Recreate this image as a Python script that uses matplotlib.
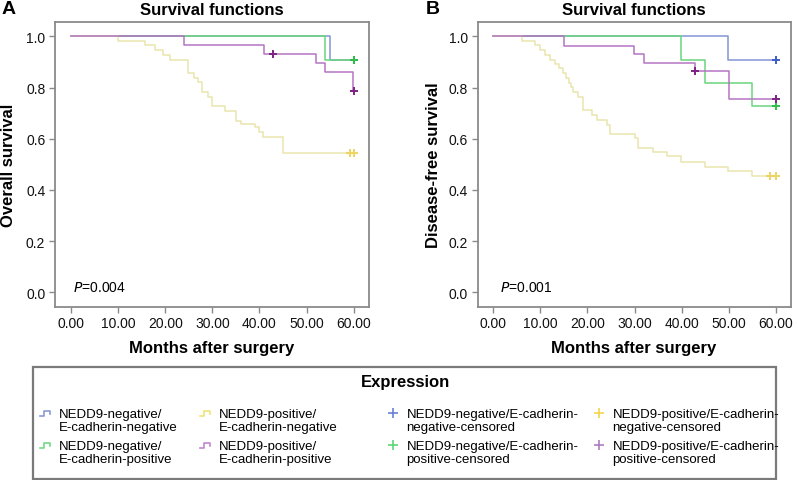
import matplotlib
matplotlib.use("Agg")
import matplotlib.pyplot as plt
from matplotlib.lines import Line2D
from matplotlib.patches import Rectangle
from matplotlib.legend_handler import HandlerBase

plt.rcParams['font.family'] = ['Liberation Sans', 'DejaVu Sans']

# ---------------- data ----------------
# Panel A: overall survival (Kaplan-Meier step data)
A_blue_t = [0, 55.0, 60]
A_blue_s = [1.0, 0.909, 0.909]
A_blue_ct = [60]
A_blue_cs = [0.909]

A_green_t = [0, 53.9, 60]
A_green_s = [1.0, 0.909, 0.909]
A_green_ct = [60]
A_green_cs = [0.909]

A_yellow_t = [0, 10.0, 15.7, 17.8, 19.6, 21.0, 24.9, 26.0, 26.9, 27.9, 29.0, 29.9,
              32.7, 35.0, 36.1, 39.0, 39.8, 40.8, 45.0, 60]
A_yellow_s = [1.0, 0.983, 0.967, 0.946, 0.928, 0.909, 0.855, 0.836, 0.820, 0.781, 0.762,
              0.729, 0.709, 0.670, 0.657, 0.645, 0.625, 0.605, 0.545, 0.545]
A_yellow_ct = [59.2, 60]
A_yellow_cs = [0.545, 0.545]

A_purple_t = [0, 23.9, 41.0, 51.9, 53.9, 59.9, 60]
A_purple_s = [1.0, 0.966, 0.931, 0.896, 0.860, 0.787, 0.787]
A_purple_ct = [42.9, 60]
A_purple_cs = [0.931, 0.787]

# Panel B: disease-free survival
B_blue_t = [0, 49.9, 60]
B_blue_s = [1.0, 0.909, 0.909]
B_blue_ct = [60]
B_blue_cs = [0.909]

B_green_t = [0, 39.9, 44.9, 55.0, 60]
B_green_s = [1.0, 0.909, 0.818, 0.727, 0.727]
B_green_ct = [60]
B_green_cs = [0.727]

B_yellow_t = [0, 6.0, 8.9, 9.9, 10.9, 12.0, 13.1, 14.0, 14.9, 15.5, 16.0, 16.5, 17.0,
              18.1, 19.0, 20.9, 22.1, 24.1, 24.9, 30.1, 30.8, 34.0, 36.8, 39.9, 44.9,
              49.9, 54.9, 60]
B_yellow_s = [1.0, 0.983, 0.967, 0.946, 0.928, 0.909, 0.892, 0.875, 0.855, 0.837, 0.819,
              0.801, 0.781, 0.762, 0.712, 0.693, 0.673, 0.654, 0.618, 0.601, 0.565, 0.547,
              0.531, 0.510, 0.491, 0.473, 0.454, 0.454]
B_yellow_ct = [58.8, 60]
B_yellow_cs = [0.454, 0.454]

B_purple_t = [0, 15.0, 29.9, 32.0, 42.9, 50.0, 60]
B_purple_s = [1.0, 0.964, 0.931, 0.897, 0.863, 0.755, 0.755]
B_purple_ct = [42.9, 60]
B_purple_cs = [0.863, 0.755]

x_ticks = [0, 10, 20, 30, 40, 50, 60]
y_ticks = [0.0, 0.2, 0.4, 0.6, 0.8, 1.0]

group_labels = ["NEDD9-negative/\nE-cadherin-negative",
                "NEDD9-negative/\nE-cadherin-positive",
                "NEDD9-positive/\nE-cadherin-negative",
                "NEDD9-positive/\nE-cadherin-positive"]
censor_labels = ["NEDD9-negative/E-cadherin-\nnegative-censored",
                 "NEDD9-negative/E-cadherin-\npositive-censored",
                 "NEDD9-positive/E-cadherin-\nnegative-censored",
                 "NEDD9-positive/E-cadherin-\npositive-censored"]

# ---------------- style ----------------
line_col = {'blue': '#8494d6', 'green': '#6ad67c', 'yellow': '#e9e5ae', 'purple': '#b574c4'}
cens_col = {'blue': '#3f5cc8', 'green': '#2fbf4a', 'yellow': '#eed460', 'purple': '#7d2283'}
leg_line_col = {'blue': '#8a9ad6', 'green': '#74d888', 'yellow': '#f0e47a', 'purple': '#c088d0'}
leg_cens_col = {'blue': '#6a82d4', 'green': '#5cd676', 'yellow': '#f2d64e', 'purple': '#b07cc0'}
spine_col = '#8a8a8a'

W, H = 798, 481
fig = plt.figure(figsize=(W / 100, H / 100), dpi=100)

def px_axes(l, r, t, b):
    return fig.add_axes([l / W, 1 - b / H, (r - l) / W, (b - t) / H])

axA = px_axes(55, 369, 23, 307.7)
axB = px_axes(477.7, 790.7, 23, 307.7)

panels = [
    (axA, {'blue': (A_blue_t, A_blue_s, A_blue_ct, A_blue_cs),
           'green': (A_green_t, A_green_s, A_green_ct, A_green_cs),
           'yellow': (A_yellow_t, A_yellow_s, A_yellow_ct, A_yellow_cs),
           'purple': (A_purple_t, A_purple_s, A_purple_ct, A_purple_cs)},
     (-3.4, 63.24), "P=0.004", 0.4),
    (axB, {'blue': (B_blue_t, B_blue_s, B_blue_ct, B_blue_cs),
           'green': (B_green_t, B_green_s, B_green_ct, B_green_cs),
           'yellow': (B_yellow_t, B_yellow_s, B_yellow_ct, B_yellow_cs),
           'purple': (B_purple_t, B_purple_s, B_purple_ct, B_purple_cs)},
     (-3.31, 63.18), "P=0.001", 1.4),
]

order = ['blue', 'green', 'yellow', 'purple']
for ax, data, xlim, ptxt, px in panels:
    for z, key in enumerate(order):
        t, s, ct, cs = data[key]
        ax.step(t, s, where='post', color=line_col[key], lw=1.1, zorder=2 + z)
    for z, key in enumerate(order):
        t, s, ct, cs = data[key]
        ax.plot(ct, cs, linestyle='none', marker='+', markersize=6, mew=1.4,
                color=cens_col[key], zorder=7 + z)
    ax.set_xlim(*xlim)
    ax.set_ylim(-0.056, 1.056)
    ax.set_xticks(x_ticks)
    ax.set_xticklabels([f"{v:.2f}" for v in x_ticks])
    ax.set_yticks(y_ticks)
    ax.set_yticklabels([f"{v:.1f}" for v in y_ticks])
    for sp in ax.spines.values():
        sp.set_color(spine_col)
        sp.set_linewidth(1.3)
    ax.tick_params(direction='out', length=4, width=1, color=spine_col,
                   labelsize=10, pad=3, labelcolor='#111111')
    ax.set_title("Survival functions", fontsize=12, fontweight='bold', pad=6)
    ax.text(px, 0.02, r"$\it{P}$" + ptxt[1:], fontsize=10, va='center', ha='left')

# labels
fig.text(2 / W, 1 - 10 / H, "A", fontsize=14, fontweight='bold', ha='left', va='center')
fig.text(426 / W, 1 - 10 / H, "B", fontsize=14, fontweight='bold', ha='left', va='center')
fig.text(9 / W, 1 - 165 / H, "Overall survival", rotation=90, fontsize=12,
         fontweight='bold', ha='center', va='center')
fig.text(434 / W, 1 - 165 / H, "Disease-free survival", rotation=90, fontsize=12,
         fontweight='bold', ha='center', va='center')
fig.text(212 / W, 1 - 348 / H, "Months after surgery", fontsize=12, fontweight='bold',
         ha='center', va='center')
fig.text(634 / W, 1 - 348 / H, "Months after surgery", fontsize=12, fontweight='bold',
         ha='center', va='center')

# legend box + title
fig.add_artist(Rectangle((33 / W, 1 - 480 / H), (776 - 33) / W, (480 - 368) / H,
                         transform=fig.transFigure, fill=False, edgecolor='#7a7a7a', lw=1.6))
fig.text(405 / W, 1 - 383 / H, "Expression", fontsize=12, fontweight='bold',
         ha='center', va='center')

class StepHandler(HandlerBase):
    def create_artists(self, legend, orig_handle, xdescent, ydescent, width, height,
                       fontsize, trans):
        x0, y0 = -xdescent, -ydescent + 0.55 * fontsize
        xs = [x0, x0 + 0.45 * width, x0 + 0.45 * width, x0 + width, x0 + width]
        ys = [y0 + 0.2 * height, y0 + 0.2 * height, y0 + 0.75 * height, y0 + 0.75 * height,
              y0 + 0.45 * height]
        ln = Line2D(xs, ys, color=orig_handle.get_color(), lw=1.2)
        ln.set_transform(trans)
        return [ln]

class PlusHandler(HandlerBase):
    def create_artists(self, legend, orig_handle, xdescent, ydescent, width, height,
                       fontsize, trans):
        x0, y0 = -xdescent, -ydescent + 0.55 * fontsize
        ln = Line2D([x0 + width / 2], [y0 + height / 2], marker='+', markersize=7, mew=1.2,
                    color=orig_handle.get_color(), linestyle='none')
        ln.set_transform(trans)
        return [ln]

step_handles = [Line2D([], [], color=leg_line_col[k]) for k in order]
plus_handles = [Line2D([], [], color=leg_cens_col[k], marker='+') for k in order]

columns = [
    (step_handles[0:2], group_labels[0:2], StepHandler(), 40),
    (step_handles[2:4], group_labels[2:4], StepHandler(), 200),
    (plus_handles[0:2], censor_labels[0:2], PlusHandler(), 388),
    (plus_handles[2:4], censor_labels[2:4], PlusHandler(), 594),
]
for hs, labs, handler, xleft in columns:
    leg = fig.legend(hs, labs, handler_map={h: handler for h in hs}, ncol=1,
                     loc='upper left', bbox_to_anchor=(xleft / W, 1 - 409 / H),
                     frameon=False, fontsize=9.5, handlelength=0.74, handletextpad=0.67,
                     labelspacing=0.55, borderpad=0, borderaxespad=0)
    for txt in leg.get_texts():
        txt.set_linespacing(1.1)

fig.savefig("out.png", dpi=100)
